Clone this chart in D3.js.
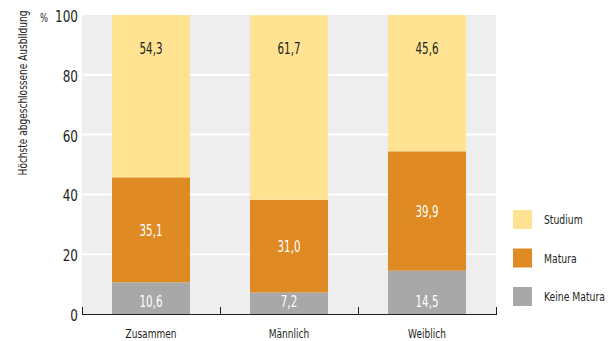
<!DOCTYPE html>
<html><head><meta charset="utf-8">
<script src="https://cdn.jsdelivr.net/npm/d3@7"></script>
<style>
body{margin:0;background:#fff;}
text{font-family:"DejaVu Sans",sans-serif;font-stretch:condensed;fill:#231f20;}
</style></head>
<body><svg id="c" width="611" height="341"></svg>
<script>
const categories = ["Zusammen","Männlich","Weiblich"];
const seriesNames = ["Keine Matura","Matura","Studium"];
const keineMatura = [10.6, 7.2, 14.5];
const matura = [35.1, 31.0, 39.9];
const studium = [54.3, 61.7, 45.6];
const yTicks = [0,20,40,60,80,100];
const colors = {"Studium":"#ffe393","Matura":"#e08a24","Keine Matura":"#a8a8a9"};

const svg = d3.select("#c");
const pL=82, pR=496, pT=15, pB=314;
const x = d3.scaleBand().domain(categories).range([pL,pR]).paddingInner(0.435).paddingOuter(0.2175);
const y = d3.scaleLinear().domain([0,100]).range([pB,pT]);

// factor that narrows a sample string to the reference width
function factor(size, sample, target){
  const t = svg.append("text").attr("font-size",size).text(sample);
  const f = target / t.node().getComputedTextLength();
  t.remove();
  return f;
}
// place texts through a transform: translate to (px,py), optional rotation, horizontal squeeze
function place(sel, px, py, f, rot){
  sel.attr("transform",(d,i)=>`translate(${px(d,i)},${py(d,i)})${rot?` rotate(${rot})`:""} scale(${f},1)`);
}

svg.append("rect").attr("x",pL).attr("y",pT).attr("width",pR-pL).attr("height",pB-pT).attr("fill","#edeeed");
svg.selectAll(".grid").data(yTicks.filter(d=>d>0&&d<100)).enter().append("line")
  .attr("x1",pL).attr("x2",pR).attr("y1",d=>y(d)).attr("y2",d=>y(d))
  .attr("stroke","#fff").attr("stroke-width",2);

const rows = categories.map((c,i)=>({cat:c,"Keine Matura":keineMatura[i],"Matura":matura[i],"Studium":studium[i]}));
const stack = d3.stack().keys(seriesNames)(rows);
const fVal = factor(16.5,"54,3",23);
stack.forEach(s=>{
  svg.selectAll(null).data(s).enter().append("rect")
    .attr("x",d=>x(d.data.cat)).attr("width",x.bandwidth())
    .attr("y",d=>y(d[1])).attr("height",d=>y(d[0])-y(d[1]))
    .attr("fill",colors[s.key]);
  const t = svg.selectAll(null).data(s).enter().append("text")
    .attr("dy","0.36em").attr("text-anchor","middle").attr("font-size",16.5)
    .style("fill",s.key==="Studium"?"#231f20":"#fff")
    .text(d=>d3.format(".1f")(d[1]-d[0]).replace(".",","));
  place(t, d=>x(d.data.cat)+x.bandwidth()/2, d=>{
      if(s.key==="Studium") return y(100)+33;
      if(s.key==="Keine Matura") return y(0)-13;
      return (y(d[0])+y(d[1]))/2;
    }, fVal);
});

// x axis baseline with upward ticks
svg.append("line").attr("x1",pL).attr("x2",pR).attr("y1",pB+0.5).attr("y2",pB+0.5).attr("stroke","#231f20");
const bounds = [pL, ...categories.map(c=>x(c)+x.bandwidth()+x.step()*x.paddingInner()/2)];
svg.selectAll(".tk").data(bounds).enter().append("line")
  .attr("x1",d=>Math.round(d)+0.5).attr("x2",d=>Math.round(d)+0.5).attr("y1",pB-7).attr("y2",pB+1)
  .attr("stroke","#231f20");
const cl = svg.selectAll(".cl").data(categories).enter().append("text")
  .attr("text-anchor","middle").attr("font-size",12.5).text(d=>d);
place(cl, d=>x(d)+x.bandwidth()/2, ()=>338, factor(12.5,"Zusammen",51));

// y labels
const yl = svg.selectAll(".yl").data(yTicks).enter().append("text")
  .attr("dy","0.36em").attr("text-anchor","end").attr("font-size",15).text(d=>d);
place(yl, ()=>78, d=>y(d)+1.5, factor(15,"100",23));
const pc = svg.append("text").datum("%").attr("dy","0.36em").attr("text-anchor","middle").attr("font-size",13).text("%");
place(pc, ()=>44, ()=>y(100)+2, factor(13,"%",8));
const title = "Höchste abgeschlossene Ausbildung";
const tt = svg.append("text").datum(title).attr("text-anchor","middle").attr("font-size",12).text(title);
place(tt, ()=>27.3, ()=>93, factor(12,title,165), -90);

// legend
const legend = ["Studium","Matura","Keine Matura"];
const lg = svg.selectAll(".lg").data(legend).enter().append("g")
  .attr("transform",(d,i)=>`translate(513,${210 + i*38.5})`);
lg.append("rect").attr("width",19).attr("height",19).attr("fill",d=>colors[d]);
const lt = lg.append("text").attr("dy","0.36em").attr("font-size",12.5).text(d=>d);
place(lt, ()=>31, ()=>9.5, factor(12.5,"Keine Matura",61));
</script></body></html>
